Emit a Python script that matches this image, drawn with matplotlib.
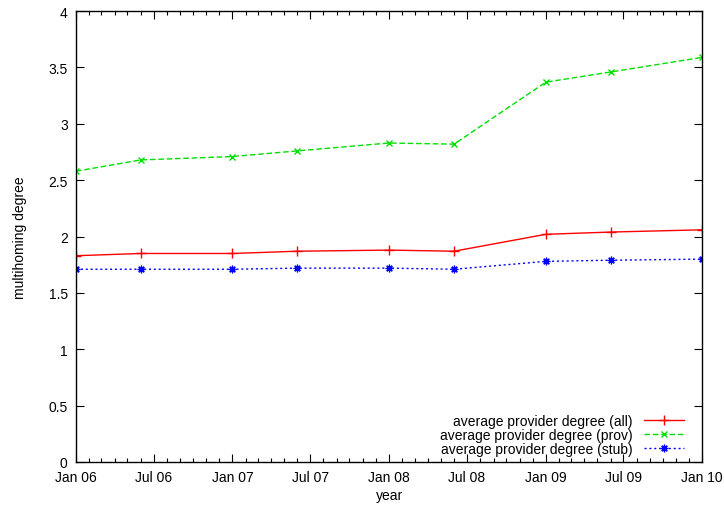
import datetime as dt

import matplotlib
matplotlib.use("Agg")
import matplotlib.pyplot as plt
import matplotlib.dates as mdates

plt.rcParams["font.family"] = ["Liberation Sans", "DejaVu Sans"]
plt.rcParams["font.size"] = 10

# snapshot months (first day of the month)
months = ["2006-01", "2006-06", "2007-01", "2007-06", "2008-01",
          "2008-06", "2009-01", "2009-06", "2010-01"]
deg_all = [1.83, 1.85, 1.85, 1.87, 1.88, 1.87, 2.02, 2.04, 2.06]
deg_prov = [2.58, 2.68, 2.71, 2.76, 2.83, 2.82, 3.37, 3.46, 3.59]
deg_stub = [1.71, 1.71, 1.71, 1.72, 1.72, 1.71, 1.78, 1.79, 1.80]

labels = ["average provider degree (all)",
          "average provider degree (prov)",
          "average provider degree (stub)"]

dates = [dt.datetime.strptime(m, "%Y-%m") for m in months]

fig = plt.figure(figsize=(7.24, 5.06), dpi=100)
ax = fig.add_axes([0.105, 0.085, 0.865, 0.891])

ax.plot(dates, deg_all, color="#ff0000", lw=1, ls="-",
        marker="+", ms=6.5, mew=1, label=labels[0])
ax.plot(dates, deg_prov, color="#00e000", lw=1, ls=(0, (4, 2)),
        marker="x", ms=5, mew=1, label=labels[1])
ax.plot(dates, deg_stub, color="#0000ff", lw=1, ls=(0, (1.5, 2)),
        marker=(8, 2, 0), ms=5.5, mew=0.9, label=labels[2])

ax.set_xlim(dt.datetime(2006, 1, 1), dt.datetime(2010, 1, 1))
ax.set_ylim(0, 4)
ax.set_yticks([0, 0.5, 1, 1.5, 2, 2.5, 3, 3.5, 4])
ax.set_yticklabels(["0", "0.5", "1", "1.5", "2", "2.5", "3", "3.5", "4"])

ax.xaxis.set_major_locator(mdates.MonthLocator(bymonth=[1, 7]))
ax.xaxis.set_minor_locator(mdates.MonthLocator())
ax.xaxis.set_major_formatter(mdates.DateFormatter("%b %y"))

ax.tick_params(which="both", direction="in", top=True, right=True,
               width=0.8, color="#000000")
ax.tick_params(which="major", length=6)
ax.tick_params(which="minor", length=3)
ax.tick_params(axis="x", which="major", pad=5.5)
ax.tick_params(axis="y", which="major", pad=6)
for side in ax.spines.values():
    side.set_linewidth(1)

ax.set_xlabel("year", labelpad=3)
ax.set_ylabel("multihoming degree", labelpad=15)

ax.legend(loc="lower right", bbox_to_anchor=(0.971, 0.014),
          frameon=False, markerfirst=False, borderpad=0,
          borderaxespad=0, handlelength=2.9, handletextpad=0.8,
          labelspacing=0.0, fontsize=10)

fig.savefig("out.png", dpi=100)
